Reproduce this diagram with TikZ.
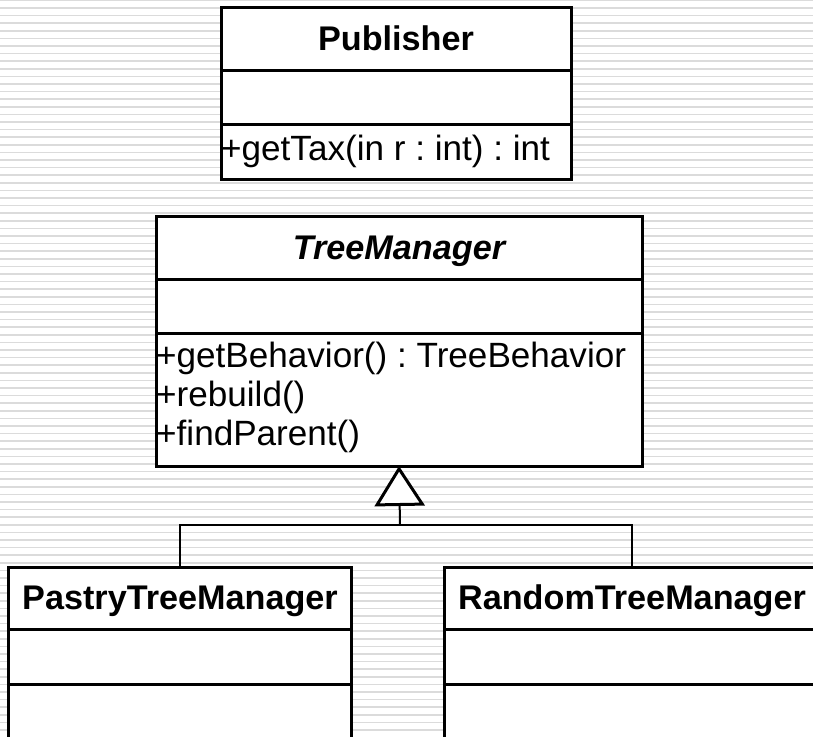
\documentclass[tikz,border=0pt]{standalone}
\usepackage{fontspec}
\usetikzlibrary{arrows.meta}
\newfontfamily\umlfont{Liberation Sans}
\newcommand{\umlsize}{\fontsize{34.2}{39}\selectfont}
\newcommand{\umlmsize}{\fontsize{35.1}{39}\selectfont}
\frenchspacing
\begin{document}
\begin{tikzpicture}[x=1pt,y=-1pt,
  box/.style={draw=black, line width=3pt, fill=white, inner sep=0pt, outer sep=0pt, anchor=north west},
  conn/.style={draw=black, line width=2pt},
  umltitle/.style={inner sep=0pt, anchor=base, font=\umlfont\bfseries\umlsize},
  umlabs/.style={inner sep=0pt, anchor=base, font=\umlfont\bfseries\itshape\umlsize},
  meth/.style={inner sep=0pt, anchor=base west, font=\umlfont\umlmsize\frenchspacing},
  stripe/.style={draw=black!14, line width=1.6pt}]
\useasboundingbox (0,0) rectangle (813,736);
\clip (0,0) rectangle (813,736);
\fill[white] (0,0) rectangle (813,736);
\foreach \i in {0,...,96} \draw[stripe] (0,{0.3+7.6*\i}) -- (813,{0.3+7.6*\i});

% Publisher
\node[box, minimum width=350pt, minimum height=63pt] (pubT) at (221,7) {};
\node[box, minimum width=350pt, minimum height=54pt] (pubA) at (221,70) {};
\node[box, minimum width=350pt, minimum height=55pt] (pubO) at (221,124) {};
\node[umltitle] (pubName) at (396,50.3) {Publisher};
\node[meth] (pubM) at (221,160) {+getTax(in r : int) : int};

% TreeManager
\node[box, minimum width=486pt, minimum height=63pt] (tmT) at (156,216) {};
\node[box, minimum width=486pt, minimum height=54pt] (tmA) at (156,279) {};
\node[box, minimum width=486pt, minimum height=133pt] (tmO) at (156,333) {};
\node[umlabs] (tmName) at (399,259.5) {TreeManager};
\node[meth] (tmM1) at (156,367) {+getBehavior() : TreeBehavior};
\node[meth] (tmM2) at (156,406) {+rebuild()};
\node[meth] (tmM3) at (156,445) {+findParent()};

% PastryTreeManager
\node[box, minimum width=343.4pt, minimum height=62pt] (pasT) at (8.3,567) {};
\node[box, minimum width=343.4pt, minimum height=55pt] (pasA) at (8.3,629) {};
\node[box, minimum width=343.4pt, minimum height=80pt] (pasO) at (8.3,684) {};
\node[umltitle] (pasName) at (180,609.5) {PastryTreeManager};

% RandomTreeManager
\node[box, minimum width=376pt, minimum height=62pt] (ranT) at (444,567) {};
\node[box, minimum width=376pt, minimum height=55pt] (ranA) at (444,629) {};
\node[box, minimum width=376pt, minimum height=80pt] (ranO) at (444,684) {};
\node[umltitle] (ranName) at (632,609.5) {RandomTreeManager};

% generalization
\coordinate (join) at (400,525);
\draw[conn] (pasT.north) |- (join) -| (ranT.north);
\draw[conn, -{Triangle[length=40pt, width=50pt, line width=3pt, fill=white]}] (join) -- (tmO.south);
\end{tikzpicture}
\end{document}
